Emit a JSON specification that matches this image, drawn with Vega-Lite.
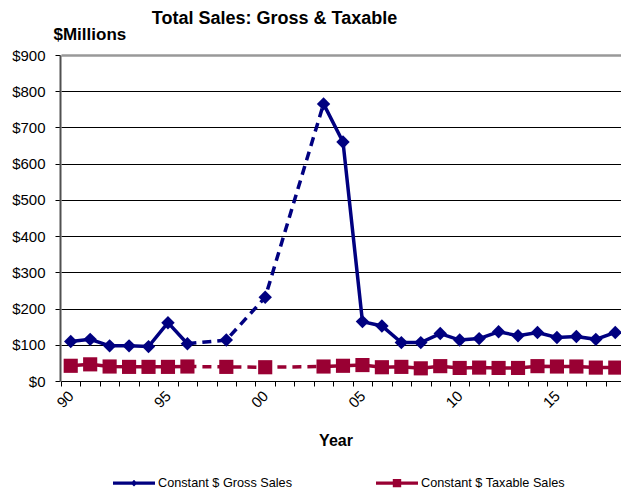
{
  "$schema": "https://vega.github.io/schema/vega-lite/v6.json",
  "width": 561,
  "height": 326,
  "autosize": "none",
  "padding": {"left": 60, "top": 55, "right": 0, "bottom": 108},
  "background": "white",
  "config": {
    "view": {"stroke": null},
    "font": "Liberation Sans"
  },
  "title": {
    "text": "Total Sales: Gross & Taxable",
    "fontSize": 18,
    "fontWeight": "bold",
    "font": "Liberation Sans",
    "color": "black",
    "anchor": "middle",
    "frame": "group",
    "dx": -66,
    "baseline": "alphabetic",
    "offset": -17
  },
  "data": {
    "values": [
      {"year": 1990, "series": "Constant $ Gross Sales", "value": 109},
      {"year": 1991, "series": "Constant $ Gross Sales", "value": 115},
      {"year": 1992, "series": "Constant $ Gross Sales", "value": 97},
      {"year": 1993, "series": "Constant $ Gross Sales", "value": 97},
      {"year": 1994, "series": "Constant $ Gross Sales", "value": 95},
      {"year": 1995, "series": "Constant $ Gross Sales", "value": 161},
      {"year": 1996, "series": "Constant $ Gross Sales", "value": 103},
      {"year": 1998, "series": "Constant $ Gross Sales", "value": 113},
      {"year": 2000, "series": "Constant $ Gross Sales", "value": 231},
      {"year": 2003, "series": "Constant $ Gross Sales", "value": 765},
      {"year": 2004, "series": "Constant $ Gross Sales", "value": 660},
      {"year": 2005, "series": "Constant $ Gross Sales", "value": 164},
      {"year": 2006, "series": "Constant $ Gross Sales", "value": 152},
      {"year": 2007, "series": "Constant $ Gross Sales", "value": 106},
      {"year": 2008, "series": "Constant $ Gross Sales", "value": 106},
      {"year": 2009, "series": "Constant $ Gross Sales", "value": 131},
      {"year": 2010, "series": "Constant $ Gross Sales", "value": 113},
      {"year": 2011, "series": "Constant $ Gross Sales", "value": 117},
      {"year": 2012, "series": "Constant $ Gross Sales", "value": 136},
      {"year": 2013, "series": "Constant $ Gross Sales", "value": 125},
      {"year": 2014, "series": "Constant $ Gross Sales", "value": 134},
      {"year": 2015, "series": "Constant $ Gross Sales", "value": 120},
      {"year": 2016, "series": "Constant $ Gross Sales", "value": 123},
      {"year": 2017, "series": "Constant $ Gross Sales", "value": 115},
      {"year": 2018, "series": "Constant $ Gross Sales", "value": 134},
      {"year": 1990, "series": "Constant $ Taxable Sales", "value": 42},
      {"year": 1991, "series": "Constant $ Taxable Sales", "value": 46},
      {"year": 1992, "series": "Constant $ Taxable Sales", "value": 40},
      {"year": 1993, "series": "Constant $ Taxable Sales", "value": 39},
      {"year": 1994, "series": "Constant $ Taxable Sales", "value": 39},
      {"year": 1995, "series": "Constant $ Taxable Sales", "value": 39},
      {"year": 1996, "series": "Constant $ Taxable Sales", "value": 40},
      {"year": 1998, "series": "Constant $ Taxable Sales", "value": 39},
      {"year": 2000, "series": "Constant $ Taxable Sales", "value": 38},
      {"year": 2003, "series": "Constant $ Taxable Sales", "value": 40},
      {"year": 2004, "series": "Constant $ Taxable Sales", "value": 42},
      {"year": 2005, "series": "Constant $ Taxable Sales", "value": 44},
      {"year": 2006, "series": "Constant $ Taxable Sales", "value": 38},
      {"year": 2007, "series": "Constant $ Taxable Sales", "value": 39},
      {"year": 2008, "series": "Constant $ Taxable Sales", "value": 35},
      {"year": 2009, "series": "Constant $ Taxable Sales", "value": 41},
      {"year": 2010, "series": "Constant $ Taxable Sales", "value": 36},
      {"year": 2011, "series": "Constant $ Taxable Sales", "value": 37},
      {"year": 2012, "series": "Constant $ Taxable Sales", "value": 36},
      {"year": 2013, "series": "Constant $ Taxable Sales", "value": 36},
      {"year": 2014, "series": "Constant $ Taxable Sales", "value": 41},
      {"year": 2015, "series": "Constant $ Taxable Sales", "value": 40},
      {"year": 2016, "series": "Constant $ Taxable Sales", "value": 40},
      {"year": 2017, "series": "Constant $ Taxable Sales", "value": 37},
      {"year": 2018, "series": "Constant $ Taxable Sales", "value": 37}
    ]
  },
  "encoding": {
    "x": {
      "field": "year",
      "type": "ordinal",
      "scale": {
        "type": "band",
        "paddingInner": 0,
        "paddingOuter": 0,
        "range": [1, 565],
        "domain": [1990, 1991, 1992, 1993, 1994, 1995, 1996, 1997, 1998, 1999, 2000, 2001, 2002, 2003, 2004, 2005, 2006, 2007, 2008, 2009, 2010, 2011, 2012, 2013, 2014, 2015, 2016, 2017, 2018]
      },
      "axis": {
        "title": "Year",
        "titleFontSize": 16,
        "titleFontWeight": "bold",
        "titleColor": "black",
        "titleX": 275.5,
        "titleY": 64,
        "titleAlign": "center",
        "titleBaseline": "alphabetic",
        "tickBand": "extent",
        "ticks": true,
        "tickSize": 5,
        "tickColor": "black",
        "domainColor": "black",
        "domainWidth": 1,
        "grid": false,
        "labelAngle": -45,
        "labelAlign": "right",
        "labelBaseline": "middle",
        "labelPadding": 7,
        "labelFontSize": 15,
        "labelColor": "black",
        "labelOverlap": false,
        "labelExpr": "datum.value % 5 == 0 ? substring(datum.label, 2) : ''"
      }
    },
    "y": {
      "field": "value",
      "type": "quantitative",
      "scale": {"domain": [0, 900], "nice": false},
      "axis": {
        "title": "$Millions",
        "titleAngle": 0,
        "titleAlign": "left",
        "titleBaseline": "alphabetic",
        "titleX": -7,
        "titleY": -16,
        "titleFontSize": 17,
        "titleFontWeight": "bold",
        "titleColor": "black",
        "values": [0, 100, 200, 300, 400, 500, 600, 700, 800, 900],
        "labelExpr": "'$' + datum.value",
        "labelFontSize": 15,
        "labelColor": "black",
        "labelPadding": 10,
        "tickSize": 5,
        "tickColor": "black",
        "domainColor": "#505050",
        "domainWidth": 2,
        "grid": true,
        "gridOpacity": 1,
        "gridColor": {"condition": {"test": "datum.value === 900", "value": "#999999"}, "value": "black"},
        "gridWidth": {"condition": {"test": "datum.value === 900", "value": 2.5}, "value": 1}
      }
    }
  },
  "layer": [
    {
      "transform": [{"filter": "datum.year <= 1996"}],
      "mark": {"type": "line", "strokeWidth": 3.5},
      "encoding": {
        "detail": {"field": "series", "type": "nominal"},
        "stroke": {"condition": {"test": "datum.series === 'Constant $ Gross Sales'", "value": "#000080"}, "value": "#990033"}
      }
    },
    {
      "transform": [{"filter": "datum.year >= 2003"}],
      "mark": {"type": "line", "strokeWidth": 3.5},
      "encoding": {
        "detail": {"field": "series", "type": "nominal"},
        "stroke": {"condition": {"test": "datum.series === 'Constant $ Gross Sales'", "value": "#000080"}, "value": "#990033"}
      }
    },
    {
      "transform": [{"filter": "datum.year >= 1996 && datum.year <= 2003"}],
      "mark": {"type": "line", "strokeWidth": 3.5, "strokeDash": [9, 6]},
      "encoding": {
        "detail": {"field": "series", "type": "nominal"},
        "stroke": {"condition": {"test": "datum.series === 'Constant $ Gross Sales'", "value": "#000080"}, "value": "#990033"}
      }
    },
    {
      "transform": [{"filter": "datum.series === 'Constant $ Taxable Sales'"}],
      "mark": {"type": "point", "shape": "square", "filled": true, "size": 200, "color": "#990033", "opacity": 1}
    },
    {
      "transform": [{"filter": "datum.series === 'Constant $ Gross Sales'"}],
      "mark": {"type": "point", "shape": "diamond", "filled": true, "size": 180, "color": "#000080", "opacity": 1}
    },
    {
      "transform": [{"filter": "datum.year > 3000"}],
      "mark": {"type": "point", "filled": true, "opacity": 1},
      "encoding": {
        "color": {
          "field": "series",
          "type": "nominal",
          "scale": {"domain": ["Constant $ Gross Sales", "Constant $ Taxable Sales"], "range": ["#000080", "#990033"]},
          "legend": {
            "orient": "none",
            "legendX": 53,
            "legendY": 407,
            "direction": "horizontal",
            "title": null,
            "symbolSize": 1764,
            "symbolStrokeWidth": 0,
            "symbolOpacity": 1,
            "labelFontSize": 12.7,
            "labelColor": "black",
            "labelOffset": 3,
            "labelLimit": 300,
            "columnPadding": 84,
            "padding": 0
          }
        },
        "shape": {
          "field": "series",
          "type": "nominal",
          "scale": {
            "domain": ["Constant $ Gross Sales", "Constant $ Taxable Sales"],
            "range": ["M-1,-0.08H1V0.08H-1Z M0,-0.16L0.16,0L0,0.16L-0.16,0Z", "M-1,-0.08H1V0.08H-1Z M-0.2,-0.2H0.2V0.2H-0.2Z"]
          }
        }
      }
    }
  ]
}
